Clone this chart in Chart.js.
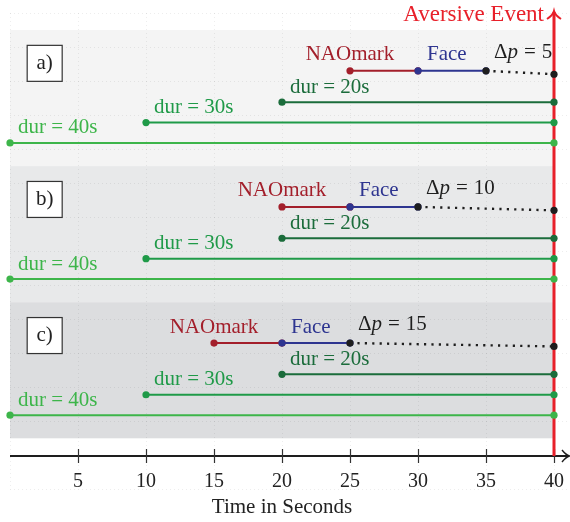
<!DOCTYPE html>
<html>
<head>
<meta charset="utf-8">
<script src="https://cdn.jsdelivr.net/npm/chart.js@4/dist/chart.umd.min.js"></script>
<style>
  html, body { margin: 0; padding: 0; background: #fff; }
  canvas { display: block; }
</style>
</head>
<body>
<canvas id="timeline" width="570" height="522"></canvas>
<script>
// Scenario data: NAOmark -> Face -> gap before the aversive event
const scenarios    = ['a)', 'b)', 'c)'];
const naomarkStart = [25, 20, 15];
const faceStart    = [30, 25, 20];
const faceEnd      = [35, 30, 25];
const eventTime    = 40;
const durations    = [20, 30, 40];
const xTicks       = [5, 10, 15, 20, 25, 30, 35, 40];

const SERIF = "'Liberation Serif', 'Times New Roman', serif";
const COLORS = {
  nao: '#a31f2b',
  face: '#2e3590',
  gap: '#1e1e1e',
  event: '#e8202a',
  axis: '#1e1e1e',
  dur: { 20: '#1b6c3b', 30: '#1f9a48', 40: '#3db54a' },
  panel: ['#f4f4f4', '#e8e9ea', '#dcdddf']
};

// Vertical layout in y-scale units: each scenario occupies one band
const BAND = 10;
const LANE = { marks: 3.0, eventDrop: 0.25, dur: { 20: 5.3, 30: 6.8, 40: 8.3 } };
const Y_MAX = 31.3;

const datasets = [];
scenarios.forEach((s, i) => {
  const base = i * BAND;
  const yM = base + LANE.marks;
  const delta = eventTime - faceEnd[i];
  datasets.push({
    label: 'gap ' + s, kind: 'gap', panel: i, delta,
    data: [{ x: faceEnd[i], y: yM }, { x: eventTime, y: yM + LANE.eventDrop }],
    borderColor: COLORS.gap, pointBackgroundColor: COLORS.gap,
    borderDash: [2.2, 5.2], borderWidth: 2.4, order: 1
  });
  datasets.push({
    label: 'Face ' + s, kind: 'face', panel: i,
    data: [{ x: faceStart[i], y: yM }, { x: faceEnd[i], y: yM }],
    borderColor: COLORS.face, pointBackgroundColor: COLORS.face, order: 2
  });
  datasets.push({
    label: 'NAOmark ' + s, kind: 'nao', panel: i,
    data: [{ x: naomarkStart[i], y: yM }, { x: faceStart[i], y: yM }],
    borderColor: COLORS.nao, pointBackgroundColor: COLORS.nao, order: 3
  });
  durations.forEach(d => {
    const y = base + LANE.dur[d];
    datasets.push({
      label: 'dur ' + d + ' ' + s, kind: 'dur', dur: d, panel: i,
      data: [{ x: eventTime - d, y }, { x: eventTime, y }],
      borderColor: COLORS.dur[d], pointBackgroundColor: COLORS.dur[d], order: 4
    });
  });
});
datasets.forEach(ds => { ds.pointBorderWidth = 0; ds.pointRadius = 3.6; });

// Panel backgrounds, faint dotted guide grid, event line and time axis
const backdrop = {
  id: 'backdrop',
  beforeDatasetsDraw(chart) {
    const { ctx, scales: { x, y }, chartArea } = chart;
    ctx.save();
    scenarios.forEach((s, i) => {
      const top = y.getPixelForValue(i * BAND);
      const bot = y.getPixelForValue((i + 1) * BAND);
      ctx.fillStyle = COLORS.panel[i];
      ctx.fillRect(x.getPixelForValue(0), top, x.getPixelForValue(eventTime) - x.getPixelForValue(0), bot - top);
    });

    // faint dotted guide grid
    ctx.strokeStyle = 'rgba(0,0,0,0.07)';
    ctx.lineWidth = 1;
    ctx.setLineDash([1, 3]);
    const gTop = y.getPixelForValue(-1.25), gBot = y.getPixelForValue(33.75);
    for (let v = -1.25; v <= 33.8; v += 2.5) {
      const py = Math.round(y.getPixelForValue(v)) + 0.5;
      ctx.beginPath(); ctx.moveTo(x.getPixelForValue(0), py); ctx.lineTo(568, py); ctx.stroke();
    }
    for (let t = 0; t <= eventTime; t += 5) {
      const px = Math.round(x.getPixelForValue(t)) + 0.5;
      ctx.beginPath(); ctx.moveTo(px, gTop); ctx.lineTo(px, gBot); ctx.stroke();
    }
    ctx.setLineDash([]);

    // time axis with arrow
    const ay = chartArea.bottom;
    const x0 = x.getPixelForValue(0);
    ctx.strokeStyle = COLORS.axis;
    ctx.lineWidth = 2;
    ctx.beginPath(); ctx.moveTo(x0, ay); ctx.lineTo(568, ay); ctx.stroke();
    ctx.lineWidth = 1.4;
    ctx.beginPath();
    ctx.moveTo(562, ay - 6); ctx.quadraticCurveTo(566, ay - 1, 569.5, ay);
    ctx.quadraticCurveTo(566, ay + 1, 562, ay + 6);
    ctx.stroke();
    ctx.strokeStyle = '#333';
    ctx.lineWidth = 1.2;
    xTicks.forEach(t => {
      const px = Math.round(x.getPixelForValue(t)) + 0.5;
      ctx.beginPath(); ctx.moveTo(px, ay - 7); ctx.lineTo(px, ay + 7); ctx.stroke();
    });

    // aversive event marker
    const ex = x.getPixelForValue(eventTime);
    const tipY = 11;
    ctx.strokeStyle = COLORS.event;
    ctx.lineWidth = 3;
    ctx.beginPath(); ctx.moveTo(ex, ay); ctx.lineTo(ex, tipY + 1); ctx.stroke();
    ctx.lineWidth = 2;
    ctx.beginPath();
    ctx.moveTo(ex - 7, tipY + 8); ctx.quadraticCurveTo(ex - 1, tipY + 4, ex, tipY);
    ctx.quadraticCurveTo(ex + 1, tipY + 4, ex + 7, tipY + 8);
    ctx.stroke();
    ctx.restore();
  },
  afterDatasetsDraw(chart) {
    const { ctx, scales: { x, y } } = chart;
    ctx.save();
    ctx.textBaseline = 'middle';

    // event caption
    ctx.font = `23px ${SERIF}`;
    ctx.fillStyle = COLORS.event;
    ctx.textAlign = 'right';
    ctx.fillText('Aversive Event', x.getPixelForValue(eventTime) - 10, 15);

    chart.data.datasets.forEach(ds => {
      const p0 = ds.data[0];
      const px0 = x.getPixelForValue(p0.x);
      const py = y.getPixelForValue(p0.y);
      ctx.font = `21px ${SERIF}`;
      if (ds.kind === 'nao') {
        ctx.fillStyle = COLORS.nao; ctx.textAlign = 'center';
        ctx.fillText('NAOmark', px0, py - 16);
      } else if (ds.kind === 'face') {
        ctx.fillStyle = COLORS.face; ctx.textAlign = 'left';
        ctx.fillText('Face', px0 + 9, py - 16);
      } else if (ds.kind === 'gap') {
        ctx.fillStyle = COLORS.gap; ctx.textAlign = 'left';
        let cx = px0 + 8;
        const cy = py - 18.5;
        ctx.fillText('\u0394', cx, cy); cx += ctx.measureText('\u0394').width;
        ctx.font = `italic 21px ${SERIF}`;
        ctx.fillText('p', cx, cy); cx += ctx.measureText('p').width + 6;
        ctx.font = `21px ${SERIF}`;
        ctx.fillText('=', cx, cy); cx += ctx.measureText('=').width + 6;
        ctx.fillText(String(ds.delta), cx, cy);
      } else if (ds.kind === 'dur') {
        ctx.fillStyle = COLORS.dur[ds.dur]; ctx.textAlign = 'left';
        ctx.fillText('dur = ' + ds.dur + 's', px0 + 8, py - 15);
      }
    });

    // scenario tags
    scenarios.forEach((s, i) => {
      const cx = x.getPixelForValue(2.55), cy = y.getPixelForValue(i * BAND + 2.45);
      ctx.fillStyle = '#fff';
      ctx.fillRect(cx - 17.5, cy - 18, 35, 36);
      ctx.strokeStyle = '#333';
      ctx.lineWidth = 1.2;
      ctx.strokeRect(cx - 17.5, cy - 18, 35, 36);
      ctx.fillStyle = '#222';
      ctx.textAlign = 'center';
      ctx.font = `21px ${SERIF}`;
      ctx.fillText(s, cx, cy);
    });
    ctx.restore();
  }
};

new Chart(document.getElementById('timeline'), {
  type: 'line',
  data: { datasets },
  options: {
    responsive: false,
    animation: false,
    events: [],
    layout: { padding: { left: 10, right: 16, top: 30, bottom: 0 } },
    elements: {
      line: { borderWidth: 2, tension: 0, fill: false },
      point: { radius: 3.6, borderWidth: 0, hoverRadius: 3.6 }
    },
    datasets: { line: { clip: false } },
    plugins: { legend: { display: false }, tooltip: { enabled: false } },
    scales: {
      x: {
        type: 'linear', min: 0, max: eventTime,
        grid: { display: false, drawTicks: false },
        border: { display: false },
        afterBuildTicks: scale => { scale.ticks = xTicks.map(v => ({ value: v })); },
        afterFit: scale => {
          scale.height = 66;
          scale.paddingLeft = 0;
          scale.paddingRight = 0;
        },
        ticks: { color: '#222', padding: 14, font: { family: SERIF, size: 20 } },
        title: {
          display: true, text: 'Time in Seconds', color: '#222',
          font: { family: SERIF, size: 21 }, padding: { top: 0, bottom: 2 }
        }
      },
      y: {
        type: 'linear', min: 0, max: Y_MAX, reverse: true, display: false
      }
    }
  },
  plugins: [backdrop]
});
</script>
</body>
</html>
